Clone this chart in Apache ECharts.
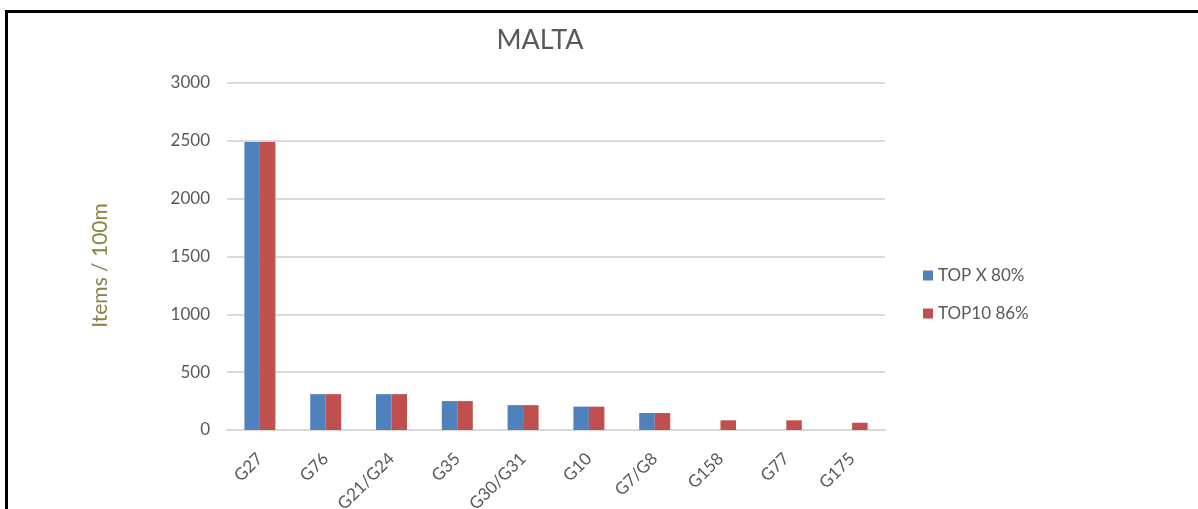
<!DOCTYPE html>
<html lang="en" style="height: 100%">
<head>
    <meta charset="utf-8">
    <style>
        /* frame drawn round the chart on the left and top only */
        .frame {
            position: absolute;
            left: 5px;
            top: 10px;
            right: 0;
            bottom: 0;
            border-left: 3px solid #000;
            border-top: 3px solid #000;
            pointer-events: none;
        }
    </style>
</head>
<body style="height: 100%; margin: 0; background: #fff">
<div id="container" style="width: 1198px; height: 509px"></div>
<div class="frame"></div>

<script type="text/javascript" src="https://cdn.jsdelivr.net/npm/echarts@6/dist/echarts.min.js"></script>
<script type="text/javascript">
    var categories = ['G27', 'G76', 'G21/G24', 'G35', 'G30/G31', 'G10', 'G7/G8', 'G158', 'G77', 'G175'];
    var topX80 = [2490, 310, 310, 250, 215, 202, 147, '-', '-', '-'];
    var top10 = [2490, 310, 310, 250, 215, 202, 147, 84, 84, 63];
    var yTicks = [0, 500, 1000, 1500, 2000, 2500, 3000];

    var dom = document.getElementById('container');
    var myChart = echarts.init(dom, null, { renderer: 'canvas' });
    var font = 'Lato, "Open Sans", sans-serif';

    var option = {
      animation: false,
      textStyle: { fontFamily: font },
      title: {
        text: 'MALTA',
        left: 535,
        top: 22,
        textAlign: 'center',
        textStyle: { fontSize: 27, fontWeight: 'normal', color: '#595959', fontFamily: font }
      },
      legend: {
        orient: 'vertical',
        left: 918,
        top: 262,
        itemGap: 21,
        itemWidth: 10,
        itemHeight: 10,
        icon: 'rect',
        textStyle: { fontSize: 17, color: '#595959', fontFamily: font },
        data: ['TOP X 80%', 'TOP10 86%']
      },
      // labels run off the bottom edge in the original, so don't let the grid shrink
      grid: { left: 227, right: 313, top: 83, bottom: 79, outerBoundsMode: 'none', containLabel: false },
      xAxis: {
        type: 'category',
        data: categories,
        axisLine: { lineStyle: { color: '#d9d9d9', width: 2 } },
        axisTick: { show: false },
        axisLabel: { rotate: 45, fontSize: 17, color: '#595959', margin: 26, interval: 0 }
      },
      yAxis: {
        type: 'value',
        min: yTicks[0],
        max: yTicks[yTicks.length - 1],
        interval: 500,
        name: 'Items / 100m',
        nameLocation: 'middle',
        nameGap: 116,
        nameTextStyle: { fontSize: 21, color: '#8c8045', fontFamily: font, padding: [0, 18, 0, 0] },
        axisLine: { show: false },
        axisTick: { show: false },
        axisLabel: {
          fontSize: 17,
          color: '#595959',
          margin: 17,
          formatter: function (v) { return String(v); }
        },
        splitLine: { lineStyle: { color: '#d9d9d9', width: 2 } }
      },
      series: [
        {
          name: 'TOP X 80%',
          type: 'bar',
          data: topX80,
          barWidth: 15.5,
          barGap: '0%',
          itemStyle: { color: '#4f81bd' }
        },
        {
          name: 'TOP10 86%',
          type: 'bar',
          data: top10,
          barWidth: 15.5,
          itemStyle: { color: '#c0504d' }
        }
      ]
    };
    myChart.setOption(option);

    window.addEventListener('resize', myChart.resize);
</script>
</body>
</html>
